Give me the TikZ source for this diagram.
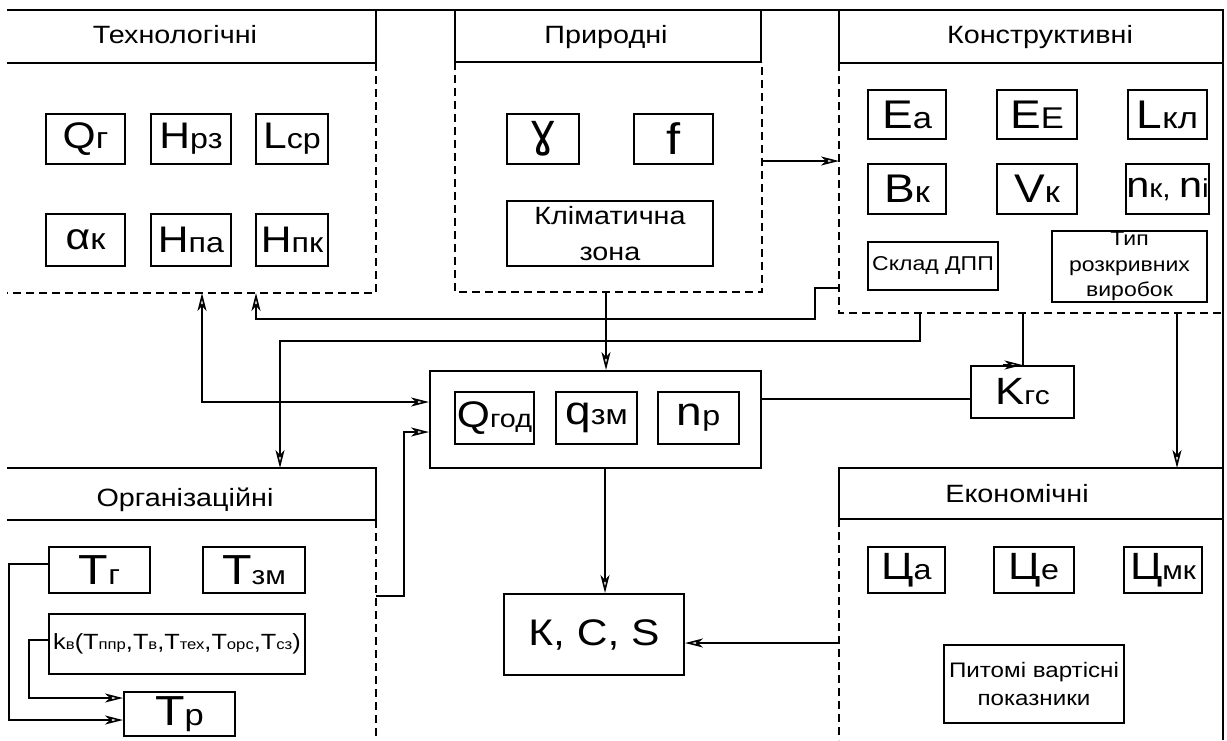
\documentclass[tikz,border=0pt]{standalone}
\usepackage{fontspec}
\setmainfont{Liberation Sans}[FakeStretch=1.15]
\newfontfamily\djv{DejaVu Sans}
\usetikzlibrary{arrows.meta}
\newcommand\ms[4]{{\fontsize{#1}{#1}\selectfont #3}{\fontsize{#2}{#2}\selectfont #4}}
\newcommand\fs[1]{\fontsize{#1}{#1}\selectfont}
\newcommand\kb[1]{{\fontsize{14.5}{14.5}\selectfont #1}}
\begin{document}
\begin{tikzpicture}[x=1pt,y=-1pt,
  ln/.style={line width=2pt},
  dsh/.style={line width=2pt, dash pattern=on 8pt off 5pt},
  bx/.style={draw, line width=2pt, inner sep=0pt, align=center},
  reg/.style={inner sep=0pt, outer sep=0pt},
  htxt/.style={anchor=base, font=\fs{25}},
  tip/.tip={Stealth[open,length=18pt,width=9pt,inset=5pt,line width=1.6pt]},
  arr/.style={line width=2pt, -tip},
  arrb/.style={line width=2pt, tip-tip},
]
\useasboundingbox (0,0) rectangle (1227,740);

% region geometry
\node[reg, minimum width=369pt, minimum height=230pt] (techB) at (191.5,178) {};
\node[reg, minimum width=307pt, minimum height=230pt] (prirB) at (608.5,177) {};
\node[reg, minimum width=384pt, minimum height=250pt] (konB) at (1031,188) {};
\node[reg, minimum width=369pt, minimum height=220pt] (orgB) at (191.5,630) {};
\node[reg, minimum width=384pt, minimum height=221pt] (ekB) at (1031,629.5) {};
\node[reg, minimum width=369pt, minimum height=53pt] (techH) at (191.5,36.5) {};
\node[reg, minimum width=306pt, minimum height=52pt] (prirH) at (608,36) {};
\node[reg, minimum width=384pt, minimum height=53pt] (konH) at (1031,36.5) {};
\node[reg, minimum width=369pt, minimum height=52pt] (orgH) at (191.5,494) {};
\node[reg, minimum width=384pt, minimum height=51pt] (ekH) at (1031,493.5) {};

% frames
\draw[ln] (techH.north west) -- (konH.north east) -- (ekB.south east);
\draw[ln] (techH.south west) -- (techH.south east) -- (techH.north east);
\draw[ln] (prirH.north west) -- (prirH.south west) -- (prirH.south east) -- (prirH.north east);
\draw[ln] (konH.north west) -- (konH.south west) -- (konH.south east);
\draw[ln] (orgH.north west) -- (orgH.north east) -- (orgH.south east) -- (orgH.south west);
\draw[ln] (ekH.north east) -- (ekH.north west) -- (ekH.south west) -- (ekH.south east);
\draw[dsh] (techB.north east) -- (techB.south east) -- (techB.south west);
\draw[dsh] (prirB.north west) -- (prirB.south west) -- (prirB.south east) -- (prirB.north east);
\draw[dsh] (konB.north west) -- (konB.south west) -- (konB.south east);
\draw[dsh] (orgB.north east) -- (orgB.south east);
\draw[dsh] (ekB.north west) -- (ekB.south west);

% header texts
\node[htxt] (techT) at (175,43) {Технологічні};
\node[htxt] (prirT) at (606,43) {Природні};
\node[htxt] (konT) at (1040,43) {Конструктивні};
\node[htxt] (orgT) at (185,506) {Організаційні};
\node[htxt] (ekT) at (1017,502) {Економічні};

% technological
\node[bx, minimum width=79pt, minimum height=50pt] (qg) at (85.5,139) {\ms{37}{30}{Q}{г}};
\node[bx, minimum width=80pt, minimum height=50pt] (hrz) at (191,139) {\ms{37}{28}{H}{рз}};
\node[bx, minimum width=72pt, minimum height=50pt] (lcp) at (292,139) {\ms{37}{28}{L}{ср}};
\node[bx, minimum width=79pt, minimum height=52pt] (ak) at (85.5,240) {\ms{37}{30}{α}{к}};
\node[bx, minimum width=80pt, minimum height=52pt] (hpa) at (191,240) {\ms{37}{28}{H}{па}};
\node[bx, minimum width=72pt, minimum height=52pt] (hpk) at (292,240) {\ms{37}{28}{H}{пк}};

% natural
\node[bx, minimum width=72pt, minimum height=50pt] (gam) at (543,139) {\djv\fs{46}ɣ};
\node[bx, minimum width=79pt, minimum height=50pt] (ff) at (673.5,139) {\fs{44}f};
\node[bx, minimum width=206pt, minimum height=65pt, font=\fontsize{25}{36}\selectfont] (klim) at (610,233.5) {Кліматична\\зона};

% constructive
\node[bx, minimum width=78pt, minimum height=49pt] (ea) at (907,114.5) {\ms{40}{30}{E}{a}};
\node[bx, minimum width=80pt, minimum height=49pt] (ee) at (1037,114.5) {\ms{40}{30}{E}{E}};
\node[bx, minimum width=79pt, minimum height=49pt] (lkl) at (1167.5,114.5) {\ms{40}{30}{L}{кл}};
\node[bx, minimum width=78pt, minimum height=50pt] (bk) at (907,189) {\ms{40}{30}{B}{к}};
\node[bx, minimum width=80pt, minimum height=50pt] (vk) at (1037,189) {\ms{40}{30}{V}{к}};
\node[bx, minimum width=79pt, minimum height=50pt] (nk) at (1167.5,189) {\ms{36}{26}{n}{к, }\ms{36}{26}{n}{i}};
\node[bx, minimum width=130pt, minimum height=48pt, font=\fs{20}] (skl) at (933,266) {Склад ДПП};
\node[bx, minimum width=155pt, minimum height=71pt, font=\fontsize{20}{25.5}\selectfont] (typ) at (1129.5,266.5) {Тип\\розкривних\\виробок};

% centre
\node[bx, minimum width=331pt, minimum height=97pt] (center) at (595.5,419.5) {};
\node[bx, minimum width=79pt, minimum height=52pt] (qgod) at (494.5,418) {\ms{37}{25}{Q}{год}};
\node[bx, minimum width=81pt, minimum height=52pt] (qzm) at (596.5,418) {\ms{40}{28}{q}{зм}};
\node[bx, minimum width=81pt, minimum height=52pt] (np) at (698.5,418) {\ms{40}{28}{n}{р}};
\node[bx, minimum width=103pt, minimum height=52pt] (kgs) at (1022.5,392) {\ms{38}{26}{K}{гс}};
\node[bx, minimum width=180pt, minimum height=81pt] (kcs) at (594,634.5) {\fs{37}К, С, S};

% economic
\node[bx, minimum width=77pt, minimum height=46pt] (ca) at (906.5,570) {\ms{38}{28}{Ц}{а}};
\node[bx, minimum width=80pt, minimum height=46pt] (ce) at (1034,570) {\ms{38}{28}{Ц}{е}};
\node[bx, minimum width=78pt, minimum height=46pt] (cmk) at (1163,570) {\ms{38}{26}{Ц}{мк}};
\node[bx, minimum width=180pt, minimum height=78pt, font=\fontsize{21}{28}\selectfont] (pyt) at (1034,684) {Питомі вартісні\\показники};

% organisational
\node[bx, minimum width=101pt, minimum height=46pt] (tg) at (99.5,570) {\ms{42}{28}{T}{г}};
\node[bx, minimum width=102pt, minimum height=46pt] (tzm) at (254,570) {\ms{42}{26}{T}{зм}};
\node[bx, minimum width=256pt, minimum height=60pt, font=\fs{22}] (kv) at (177,644) {k\kb{в}(T\kb{ппр},T\kb{в},T\kb{тех},T\kb{орс},T\kb{сз})};
\node[bx, minimum width=111pt, minimum height=44pt] (tp) at (179.5,714) {\ms{42}{30}{T}{р}};

% connectors
\draw[arr] (prirB.east |- 0,161) -- (konB.west |- 0,161);
\draw[arr] (prirB.south -| 606,0) -- (center.north -| 606,0);
\draw[arrb] (techB.south -| 202,0) |- (center.west |- 0,402);
\draw[arr] (konB.west |- 0,288) -- (815,288) -- (815,319) -| (techB.south -| 256,0);
\draw[arr] (konB.south -| 920,0) |- (280,341) -- (orgH.north -| 280,0);
\draw[arr] (orgB.east |- 0,596) -| (404,432) -- (center.west |- 0,432);
\draw[ln] (center.east |- 0,399) -- (kgs.west |- 0,399);
\draw[ln] (konB.south -| kgs.north) -- (kgs.north);
\draw[arr] ([xshift=-20pt]kgs.north) -- (kgs.north);
\draw[arr] (konB.south -| 1177,0) -- (ekH.north -| 1177,0);
\draw[arr] (center.south -| 605,0) -- (kcs.north -| 605,0);
\draw[arr] (ekB.west |- 0,643) -- (kcs.east |- 0,643);
\draw[arr] (tg.west |- 0,564) -| (9,720) -- (tp.west |- 0,720);
\draw[arr] (kv.west |- 0,640) -| (29,698) -- (tp.west |- 0,698);
\end{tikzpicture}
\end{document}
